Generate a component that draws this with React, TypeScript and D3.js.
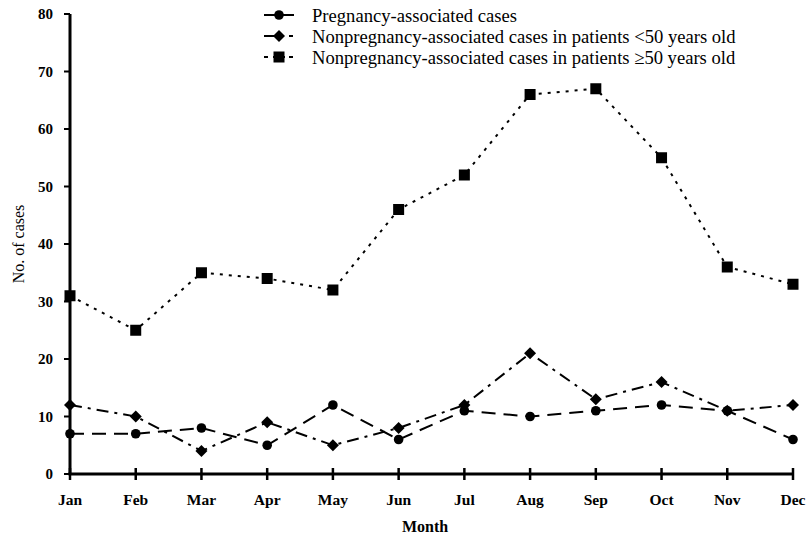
import React from "react";
import * as d3 from "d3";

const months = ["Jan", "Feb", "Mar", "Apr", "May", "Jun", "Jul", "Aug", "Sep", "Oct", "Nov", "Dec"];
const pregnancy = [7, 7, 8, 5, 12, 6, 11, 10, 11, 12, 11, 6];
const under50 = [12, 10, 4, 9, 5, 8, 12, 21, 13, 16, 11, 12];
const over50 = [31, 25, 35, 34, 32, 46, 52, 66, 67, 55, 36, 33];
const yTicks = [0, 10, 20, 30, 40, 50, 60, 70, 80];
const seriesNames = [
  "Pregnancy-associated cases",
  "Nonpregnancy-associated cases in patients <50 years old",
  "Nonpregnancy-associated cases in patients \u226550 years old",
];

const W = 809;
const H = 542;
const x = d3.scalePoint<string>().domain(months).range([70, 793]);
const y = d3.scaleLinear().domain([0, 80]).range([474, 14]);
const FONT = "'Liberation Serif', 'Times New Roman', serif";

const series = [
  { name: seriesNames[0], values: pregnancy, dash: "14,8", marker: "circle" },
  { name: seriesNames[1], values: under50, dash: "12,6,3,6", marker: "diamond" },
  { name: seriesNames[2], values: over50, dash: "3,6", marker: "square" },
];

function Marker({ type, cx, cy }: { type: string; cx: number; cy: number }) {
  if (type === "circle") return <circle cx={cx} cy={cy} r={4.8} fill="#000" />;
  if (type === "diamond")
    return <path d={`M${cx},${cy - 6}L${cx + 6},${cy}L${cx},${cy + 6}L${cx - 6},${cy}Z`} fill="#000" />;
  return <rect x={cx - 5.5} y={cy - 5.5} width={11} height={11} fill="#000" />;
}

export default function App() {
  const line = d3
    .line<number>()
    .x((_, i) => x(months[i]) as number)
    .y((d) => y(d));
  return (
    <svg width={W} height={H} style={{ position: "absolute", left: 0, top: 0, background: "#fff" }}>
      <rect width={W} height={H} fill="#fff" />
      {/* axes */}
      <line x1={70} x2={70} y1={y(80)} y2={y(0)} stroke="#000" strokeWidth={3} />
      <line x1={68.5} x2={793} y1={y(0)} y2={y(0)} stroke="#000" strokeWidth={3} />
      {yTicks.map((t) => (
        <g key={t}>
          <line x1={64} x2={70} y1={y(t)} y2={y(t)} stroke="#000" strokeWidth={2} />
          <text x={53} y={y(t)} dy="0.35em" textAnchor="end" fontFamily={FONT} fontSize={15} fontWeight="bold">
            {t}
          </text>
        </g>
      ))}
      {months.map((m) => (
        <g key={m}>
          <line x1={x(m)} x2={x(m)} y1={y(0) - 6} y2={y(0) + 6} stroke="#000" strokeWidth={2.5} />
          <text x={x(m)} y={505} textAnchor="middle" fontFamily={FONT} fontSize={15.5} fontWeight="bold">
            {m}
          </text>
        </g>
      ))}
      <text x={425} y={532} textAnchor="middle" fontFamily={FONT} fontSize={16} fontWeight="bold">
        Month
      </text>
      <text
        transform={`translate(24,${(y(0) + y(80)) / 2}) rotate(-90)`}
        textAnchor="middle"
        fontFamily={FONT}
        fontSize={16}
      >
        No. of cases
      </text>
      {/* series */}
      {series.map((s) => (
        <g key={s.name}>
          <path d={line(s.values) || ""} fill="none" stroke="#000" strokeWidth={2} strokeDasharray={s.dash} />
          {s.values.map((v, i) => (
            <Marker key={i} type={s.marker} cx={x(months[i]) as number} cy={y(v)} />
          ))}
        </g>
      ))}
      {/* legend */}
      {series.map((s, i) => {
        const ly = 15 + i * 21;
        return (
          <g key={s.name}>
            {i === 0 && <line x1={264} x2={294} y1={ly} y2={ly} stroke="#000" strokeWidth={2} />}
            {i === 1 && (
              <>
                <line x1={264} x2={276} y1={ly} y2={ly} stroke="#000" strokeWidth={2} />
                <line x1={289} x2={293} y1={ly} y2={ly} stroke="#000" strokeWidth={2} />
              </>
            )}
            {i === 2 && (
              <>
                <line x1={264} x2={268} y1={ly} y2={ly} stroke="#000" strokeWidth={2} />
                <line x1={273} x2={285} y1={ly} y2={ly} stroke="#000" strokeWidth={2} />
                <line x1={289} x2={293} y1={ly} y2={ly} stroke="#000" strokeWidth={2} />
              </>
            )}
            <Marker type={s.marker} cx={279} cy={ly} />
            <text x={312} y={ly} dy="0.35em" fontFamily={FONT} fontSize={18.6}>
              {s.name}
            </text>
          </g>
        );
      })}
    </svg>
  );
}
